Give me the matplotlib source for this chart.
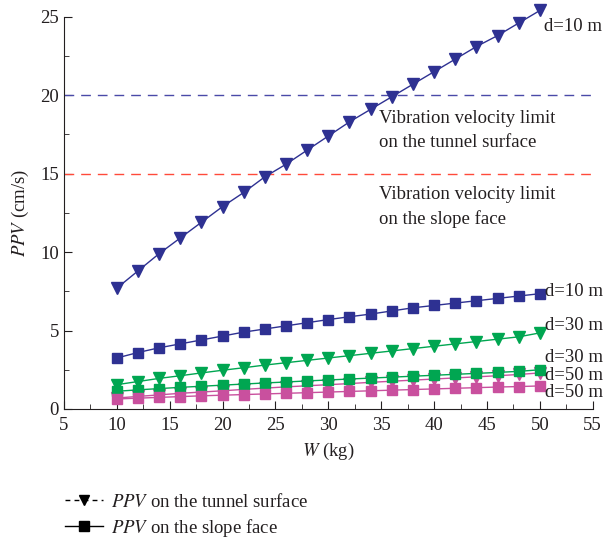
import matplotlib
matplotlib.use('Agg')
import matplotlib.pyplot as plt
from matplotlib.lines import Line2D
from matplotlib.ticker import MultipleLocator

plt.rcParams['font.family'] = 'serif'
plt.rcParams['font.serif'] = ['Liberation Serif', 'DejaVu Serif']
plt.rcParams['mathtext.fontset'] = 'stix'
plt.rcParams['font.size'] = 13

# charge weight (kg)
W = [10, 12, 14, 16, 18, 20, 22, 24, 26, 28, 30, 32, 34, 36, 38, 40, 42, 44, 46, 48, 50]

# PPV on the tunnel surface (cm/s)
tunnel_d10 = [7.7, 8.8, 9.9, 10.9, 11.9, 12.9, 13.8, 14.8, 15.6, 16.5, 17.4,
              18.3, 19.1, 19.9, 20.7, 21.5, 22.3, 23.1, 23.8, 24.6, 25.4]
tunnel_d30 = [1.55, 1.75, 1.95, 2.12, 2.3, 2.47, 2.63, 2.8, 2.95, 3.1, 3.25,
              3.4, 3.55, 3.7, 3.85, 4.0, 4.15, 4.3, 4.45, 4.6, 4.85]
tunnel_d50 = [0.7, 0.8, 0.9, 1.0, 1.08, 1.16, 1.25, 1.33, 1.41, 1.48, 1.55,
              1.62, 1.7, 1.77, 1.84, 1.91, 1.98, 2.05, 2.12, 2.2, 2.3]

# PPV on the slope face (cm/s)
slope_d10 = [3.25, 3.6, 3.9, 4.15, 4.4, 4.65, 4.9, 5.1, 5.3, 5.5, 5.7,
             5.88, 6.05, 6.25, 6.45, 6.6, 6.75, 6.9, 7.05, 7.2, 7.35]
slope_d30 = [1.13, 1.22, 1.3, 1.38, 1.45, 1.52, 1.59, 1.66, 1.72, 1.79, 1.85,
             1.91, 1.97, 2.03, 2.09, 2.15, 2.21, 2.27, 2.33, 2.4, 2.5]
slope_d50 = [0.64, 0.69, 0.74, 0.79, 0.84, 0.88, 0.92, 0.96, 1.0, 1.04, 1.08,
             1.12, 1.16, 1.2, 1.24, 1.28, 1.32, 1.36, 1.4, 1.43, 1.47]

limit_tunnel = 20
limit_slope = 15

BLUE = '#2e3192'
GREEN = '#00a651'
PINK = '#c9509e'
TXT = '#231f20'
FS = 13.5

fig = plt.figure(figsize=(6.03, 5.41), dpi=100)
ax = fig.add_axes([0.106, 0.244, 0.877, 0.725])

ax.axhline(limit_tunnel, color='#4a4aa8', linestyle=(0, (7, 5)), linewidth=1.0)
ax.axhline(limit_slope, color='#ff4a3a', linestyle=(0, (7, 5)), linewidth=1.0)

series = [
    (tunnel_d10, BLUE, 'v'), (tunnel_d30, GREEN, 'v'), (tunnel_d50, PINK, 'v'),
    (slope_d10, BLUE, 's'), (slope_d30, GREEN, 's'), (slope_d50, PINK, 's'),
]
for y, c, m in series:
    ax.plot(W, y, color=c, linewidth=1.0, marker=m,
            markersize=9 if m == 'v' else 7.5, markerfacecolor=c,
            markeredgecolor=c, clip_on=False)

# curve labels
kw = dict(va='center', ha='left', fontsize=FS, color=TXT, clip_on=False)
ax.text(50.4, 24.4, 'd=10 m', **kw)
ax.text(50.5, 7.5, 'd=10 m', **kw)
ax.text(50.5, 5.35, 'd=30 m', **kw)
ax.text(50.5, 3.3, 'd=30 m', **kw)
ax.text(50.5, 2.15, 'd=50 m', **kw)
ax.text(50.5, 1.08, 'd=50 m', **kw)

ax.text(34.8, 19.05, 'Vibration velocity limit\non the tunnel surface',
        va='top', ha='left', fontsize=FS, color=TXT, linespacing=1.5)
ax.text(34.8, 14.2, 'Vibration velocity limit\non the slope face',
        va='top', ha='left', fontsize=FS, color=TXT, linespacing=1.5)

ax.set_xlim(5, 55)
ax.set_ylim(0, 25)
ax.xaxis.set_major_locator(MultipleLocator(5))
ax.xaxis.set_minor_locator(MultipleLocator(2.5))
ax.yaxis.set_major_locator(MultipleLocator(5))
ax.yaxis.set_minor_locator(MultipleLocator(2.5))
ax.tick_params(which='both', direction='in', colors=TXT, labelsize=FS)
ax.tick_params(which='major', length=6)
ax.tick_params(which='minor', length=3.5)
ax.tick_params(axis='x', pad=6)
ax.spines['top'].set_visible(False)
ax.spines['right'].set_visible(False)
for s in ('left', 'bottom'):
    ax.spines[s].set_color(TXT)

ax.set_xlabel(r'$\mathit{W}$ (kg)', fontsize=FS, color=TXT, labelpad=5)
ax.set_ylabel(r'$\mathit{PPV}$ (cm/s)', fontsize=FS, color=TXT, labelpad=7)

handles = [
    Line2D([], [], color='black', linestyle=(0, (3.5, 3)), marker='v', markersize=7, linewidth=1.0),
    Line2D([], [], color='black', linestyle='-', marker='s', markersize=7, linewidth=1.0),
]
labels = [r'$\mathit{PPV}$ on the tunnel surface', r'$\mathit{PPV}$ on the slope face']
fig.legend(handles, labels, loc='upper left', bbox_to_anchor=(0.08, 0.12),
           frameon=False, fontsize=FS, handlelength=2.0, handletextpad=0.45,
           labelspacing=0.3, labelcolor=TXT)

fig.savefig('out.png', dpi=100)
